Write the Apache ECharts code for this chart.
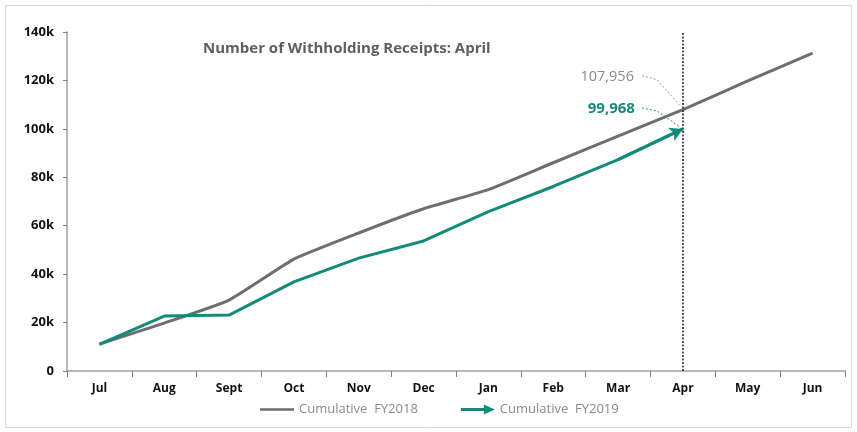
<!DOCTYPE html>
<html>
<head>
<meta charset="utf-8">
<script src="https://cdn.jsdelivr.net/npm/echarts@6/dist/echarts.min.js"></script>
<style>
  html, body { margin: 0; padding: 0; background: #fff; }
  #chart { width: 857px; height: 432px; }
</style>
</head>
<body>
<div id="chart"></div>
<script>
// months of the fiscal year
var months = ['Jul', 'Aug', 'Sept', 'Oct', 'Nov', 'Dec', 'Jan', 'Feb', 'Mar', 'Apr', 'May', 'Jun'];
// cumulative receipts
var fy2018 = [11100, 19800, 29300, 46200, 57000, 67000, 74900, 86000, 97000, 107956, 119800, 131300];
var fy2019 = [11000, 22700, 23100, 36800, 46600, 53700, 65800, 76200, 87300, 99968];
var yTicks = [0, 20000, 40000, 60000, 80000, 100000, 120000, 140000];
var currentMonth = 'Apr';

var grey = '#6e6e6e';
var teal = '#138a7b';
var font = '"Open Sans"';

var myChart = echarts.init(document.getElementById('chart'));

function fmtK(v) {
    return v === 0 ? '0' : (v / 1000) + 'k';
}

var last = fy2019.length - 1;

var option = {
    animation: false,
    textStyle: {fontFamily: font},
    title: {
        text: 'Number of Withholding Receipts: April',
        left: 198,
        top: 36,
        textStyle: {color: '#5f5f5f', fontSize: 15, fontWeight: 'bold', fontFamily: font}
    },
    grid: {left: 67, right: 12, top: 32, bottom: 61},
    xAxis: {
        type: 'category',
        data: months,
        boundaryGap: true,
        axisLine: {lineStyle: {color: '#a0a0a0', width: 1.5}},
        axisTick: {show: true, length: 6, lineStyle: {color: '#808080'}},
        axisLabel: {color: '#111', fontWeight: 'bold', fontSize: 12, margin: 12, fontFamily: font},
        splitLine: {show: false}
    },
    yAxis: {
        type: 'value',
        min: yTicks[0],
        max: yTicks[yTicks.length - 1],
        interval: yTicks[1] - yTicks[0],
        axisLine: {show: true, lineStyle: {color: '#a0a0a0', width: 1.5}},
        axisTick: {show: true, length: 4, lineStyle: {color: '#808080'}},
        axisLabel: {color: '#111', fontWeight: 'bold', fontSize: 13, margin: 13, formatter: fmtK, fontFamily: font},
        splitLine: {show: false}
    },
    legend: {
        bottom: 11,
        left: 255,
        itemWidth: 34,
        itemHeight: 10,
        itemGap: 43,
        textStyle: {color: '#8a8a8a', fontSize: 13, fontFamily: font},
        data: [
            {name: 'Cumulative  FY2018', icon: 'path://M0,4h34v2.4H0z'},
            {name: 'Cumulative  FY2019', icon: 'path://M0,3.6h23v-3.6l11,5l-11,5v-3.6H0z'}
        ]
    },
    series: [
        {
            name: 'Cumulative  FY2018',
            type: 'line',
            data: fy2018,
            smooth: 0.15,
            symbol: 'none',
            z: 3,
            lineStyle: {color: grey, width: 3},
            itemStyle: {color: grey},
            markLine: {
                silent: true,
                symbol: ['none', 'none'],
                label: {show: false},
                lineStyle: {color: '#222', type: [2, 1.5], width: 1.5},
                data: [{xAxis: currentMonth}]
            }
        },
        {
            name: 'Cumulative  FY2019',
            type: 'line',
            data: fy2019,
            smooth: false,
            symbol: 'none',
            z: 4,
            lineStyle: {color: teal, width: 3},
            itemStyle: {color: teal},
            markLine: {
                silent: true,
                symbol: ['none', 'arrow'],
                symbolSize: [11, 13],
                label: {show: false},
                lineStyle: {color: teal, type: 'solid', width: 3},
                data: [[
                    {coord: [months[last - 1], fy2019[last - 1]]},
                    {coord: [months[last], fy2019[last]]}
                ]]
            }
        }
    ]
};

myChart.setOption(option);

// annotations for the current month, placed through the chart's scales
var pG = myChart.convertToPixel({seriesIndex: 0}, [last, fy2018[last]]);
var pT = myChart.convertToPixel({seriesIndex: 1}, [last, fy2019[last]]);

function fmtNum(v) {
    return v.toString().replace(/\B(?=(\d{3})+(?!\d))/g, ',');
}

myChart.setOption({
    graphic: [
        {
            type: 'rect', silent: true,
            shape: {x: 5.5, y: 5.5, width: 846, height: 422},
            style: {fill: 'none', stroke: '#d9d9d9', lineWidth: 1}
        },
        {
            type: 'text', silent: true,
            x: pG[0] - 49, y: pG[1] - 33,
            style: {text: fmtNum(fy2018[last]), fill: '#8a8a8a', font: '14.5px ' + font, align: 'right', verticalAlign: 'middle'}
        },
        {
            type: 'text', silent: true,
            x: pT[0] - 48, y: pT[1] - 20,
            style: {text: fmtNum(fy2019[last]), fill: teal, font: 'bold 15px ' + font, align: 'right', verticalAlign: 'middle'}
        },
        {
            type: 'polyline', silent: true,
            shape: {points: [[pG[0] - 41, pG[1] - 34], [pG[0] - 26, pG[1] - 30], [pG[0] - 2, pG[1] - 3]]},
            style: {stroke: '#9a9a9a', lineWidth: 1, lineDash: [2, 2], fill: 'none'}
        },
        {
            type: 'polyline', silent: true,
            shape: {points: [[pT[0] - 41, pT[1] - 21], [pT[0] - 26, pT[1] - 18], [pT[0] - 3, pT[1] - 2]]},
            style: {stroke: teal, lineWidth: 1, lineDash: [2, 2], fill: 'none'}
        }
    ]
});
</script>
</body>
</html>
